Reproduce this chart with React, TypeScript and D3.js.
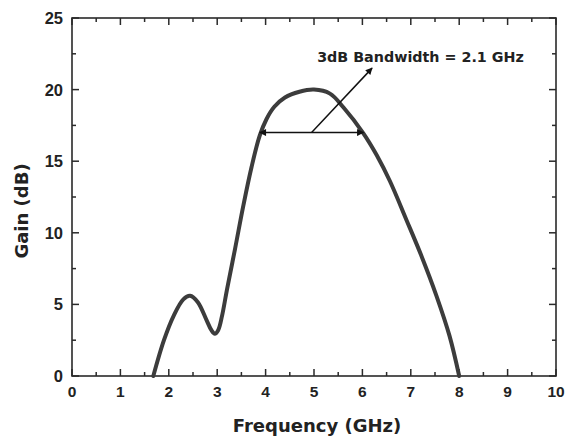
import React from "react";
import * as d3 from "d3";

const freq = [1.68, 1.9, 2.1, 2.3, 2.44, 2.6, 2.78, 2.88, 2.95, 3.02, 3.1, 3.2, 3.37, 3.54, 3.71, 3.88, 4.02, 4.18, 4.4, 4.7, 5.0, 5.33, 5.61, 6.02, 6.3, 6.57, 6.91, 7.23, 7.53, 7.8, 8.0];
const gain = [0, 2.5, 4.2, 5.35, 5.6, 5.15, 3.9, 3.2, 2.95, 3.2, 4.2, 6.0, 8.9, 11.9, 14.6, 16.8, 17.95, 18.8, 19.45, 19.85, 20.0, 19.72, 18.75, 16.95, 15.4, 13.6, 10.9, 8.3, 5.6, 2.8, 0];

const xTicks = [0, 1, 2, 3, 4, 5, 6, 7, 8, 9, 10];
const xMinor = [0.5, 1.5, 2.5, 3.5, 4.5, 5.5, 6.5, 7.5, 8.5, 9.5];
const yTicks = [0, 5, 10, 15, 20, 25];
const yMinor = [2.5, 7.5, 12.5, 17.5, 22.5];

const bandLevel = 17;
const bandStart = 3.88;
const bandEnd = 6.02;
const arrowTip = [6.2, 21.5];
const annotation = "3dB Bandwidth = 2.1 GHz";
const annotationPos = [7.2, 21.9];

export default function App() {
  const W = 571, H = 438;
  const L = 72, R = 556, T = 18, B = 376;
  const x = d3.scaleLinear().domain([0, 10]).range([L, R]);
  const y = d3.scaleLinear().domain([0, 25]).range([B, T]);
  const line = d3.line<number>().x((_, i) => x(freq[i])).y((d) => y(d)).curve(d3.curveCatmullRom.alpha(0.5));
  const axisColor = "#2a2a2a";
  const tickFont = "'Liberation Sans', Arial, sans-serif";
  const titleFont = "'DejaVu Sans', Verdana, sans-serif";
  const major = 7, minor = 4;
  const bx1 = x(bandStart), bx2 = x(bandEnd), by = y(bandLevel);
  const mid = (bx1 + bx2) / 2;
  return (
    <svg width={W} height={H} style={{ position: "absolute", left: 0, top: 0, background: "#fff" }}>
      <defs>
        <marker id="ah" viewBox="0 0 10 10" refX="9" refY="5" markerWidth="9" markerHeight="7" markerUnits="userSpaceOnUse" orient="auto-start-reverse">
          <path d="M0,0 L10,5 L0,10 z" fill="#111" />
        </marker>
      </defs>
      {xTicks.map((t) => (
        <g key={"xt" + t}>
          <line x1={x(t)} x2={x(t)} y1={B} y2={B - major} stroke={axisColor} strokeWidth={1.5} />
          <line x1={x(t)} x2={x(t)} y1={T} y2={T + major} stroke={axisColor} strokeWidth={1.5} />
        </g>
      ))}
      {xMinor.map((t) => (
        <g key={"xm" + t}>
          <line x1={x(t)} x2={x(t)} y1={B} y2={B - minor} stroke={axisColor} strokeWidth={1.5} />
          <line x1={x(t)} x2={x(t)} y1={T} y2={T + minor} stroke={axisColor} strokeWidth={1.5} />
        </g>
      ))}
      {yTicks.map((t) => (
        <g key={"yt" + t}>
          <line x1={L} x2={L + major} y1={y(t)} y2={y(t)} stroke={axisColor} strokeWidth={1.5} />
          <line x1={R} x2={R - major} y1={y(t)} y2={y(t)} stroke={axisColor} strokeWidth={1.5} />
        </g>
      ))}
      {yMinor.map((t) => (
        <g key={"ym" + t}>
          <line x1={L} x2={L + minor} y1={y(t)} y2={y(t)} stroke={axisColor} strokeWidth={1.5} />
          <line x1={R} x2={R - minor} y1={y(t)} y2={y(t)} stroke={axisColor} strokeWidth={1.5} />
        </g>
      ))}
      <rect x={L} y={T} width={R - L} height={B - T} fill="none" stroke={axisColor} strokeWidth={1.6} />
      {xTicks.map((t) => (
        <text key={"xl" + t} x={x(t)} y={397} textAnchor="middle" fontFamily={tickFont} fontWeight="bold" fontSize={15.5} fill="#222">
          {t}
        </text>
      ))}
      {yTicks.map((t) => (
        <text key={"yl" + t} x={63} y={y(t)} dy="0.36em" textAnchor="end" fontFamily={tickFont} fontWeight="bold" fontSize={16.5} fill="#222">
          {t}
        </text>
      ))}
      <text x={317} y={432} textAnchor="middle" fontFamily={titleFont} fontWeight="bold" fontSize={18} fill="#222">
        Frequency (GHz)
      </text>
      <text transform={`translate(28,211) rotate(-90)`} textAnchor="middle" fontFamily={titleFont} fontWeight="bold" fontSize={18} fill="#222">
        Gain (dB)
      </text>
      <path d={line(gain) || ""} fill="none" stroke="#3c3c3c" strokeWidth={4} strokeLinejoin="round" strokeLinecap="round" />
      <line x1={bx1} x2={bx2} y1={by} y2={by} stroke="#111" strokeWidth={1.5} markerStart="url(#ah)" markerEnd="url(#ah)" />
      <line x1={mid} y1={by} x2={x(arrowTip[0])} y2={y(arrowTip[1])} stroke="#111" strokeWidth={1.5} markerEnd="url(#ah)" />
      <text x={x(annotationPos[0])} y={y(annotationPos[1])} textAnchor="middle" fontFamily={titleFont} fontWeight="bold" fontSize={14.3} fill="#222">
        {annotation}
      </text>
    </svg>
  );
}
